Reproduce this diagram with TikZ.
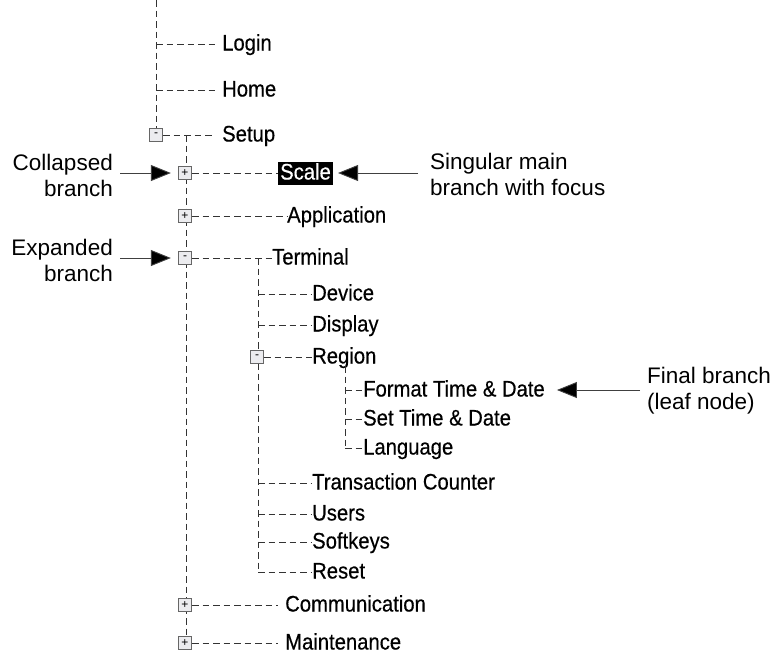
\documentclass[tikz,border=0pt]{standalone}
\usepackage{fontspec}
\setmainfont{Liberation Sans}
\newfontfamily\treefont[FakeStretch=0.9,FakeBold=0.4]{Liberation Sans}
\usetikzlibrary{arrows.meta,calc}
\begin{document}
\begin{tikzpicture}[x=1pt,y=-1pt,
  tline/.style={draw=black!80,line width=0.9pt,dash pattern=on 6.5pt off 4pt},
  tbox/.style={draw=black!60,fill=blue!8!gray!14,line width=0.8pt,minimum size=13.5pt,inner sep=0pt,font=\fontsize{12}{12}\selectfont},
  lbl/.style={anchor=west,inner sep=0pt,font=\treefont\fontsize{22.5}{22.5}\selectfont,text height=13pt,text depth=0pt},
  annr/.style={anchor=east,inner sep=0pt,align=right,font=\fontsize{22.5}{26}\selectfont},
  annl/.style={anchor=west,inner sep=0pt,align=left,font=\fontsize{22.5}{26}\selectfont},
  arr/.style={draw=black!75,line width=0.9pt,-{Triangle[length=20pt,width=16pt,fill=black]}},
  gap/.style={shorten >=7pt}
]
\useasboundingbox (0,0) rectangle (776,654);
\fill[white] (0,0) rectangle (776,654);

% trunks
\coordinate (top) at (156,0);
\coordinate (l2top) at (186,135);
\coordinate (l3top) at (258,258);
\coordinate (l4top) at (345,366);

% level 1 texts
\node[lbl] (login) at (222,44) {Login};
\node[lbl] (home) at (222,90) {Home};
\node[lbl] (setup) at (222,135) {Setup};
\coordinate (jlogin) at (156,44);
\coordinate (jhome) at (156,90);

% level 2 texts
\node[lbl,fill=black,text=white,inner xsep=2pt,inner ysep=0pt,text height=18pt,text depth=5pt] (scale) at (278,173) {Scale};
\node[lbl] (application) at (287,216) {Application};
\node[lbl] (terminal) at (272,258) {Terminal};
\node[lbl] (communication) at (285,605) {Communication};
\node[lbl] (maintenance) at (285,643) {Maintenance};

% level 3 texts
\node[lbl] (device) at (312,294) {Device};
\node[lbl] (display) at (312,325) {Display};
\node[lbl] (region) at (312,357) {Region};
\node[lbl] (transaction) at (312,483) {Transaction Counter};
\node[lbl] (users) at (312,514) {Users};
\node[lbl] (softkeys) at (312,542) {Softkeys};
\node[lbl] (reset) at (312,572) {Reset};
\coordinate (jdevice) at (258,294);
\coordinate (jdisplay) at (258,325);
\coordinate (jtrans) at (258,483);
\coordinate (jusers) at (258,514);
\coordinate (jsoft) at (258,542);
\coordinate (jreset) at (258,572);

% level 4 texts
\node[lbl] (format) at (363,390) {Format Time \& Date};
\node[lbl] (settime) at (363,419) {Set Time \& Date};
\node[lbl] (language) at (363,448) {Language};
\coordinate (jformat) at (345,390);
\coordinate (jset) at (345,419);
\coordinate (jlang) at (345,448);

% vertical trunks
\draw[tline] (top) -- (156,135);
\draw[tline] (l2top) -- (186,643);
\draw[tline] (l3top) -- (jreset);
\draw[tline] (l4top) -- (jlang);

% boxes
\node[tbox] (bsetup) at (156,135) {-};
\node[tbox] (bscale) at (185,173) {+};
\node[tbox] (bapp) at (185,216) {+};
\node[tbox] (bterm) at (185,258) {-};
\node[tbox] (bregion) at (257,357) {-};
\node[tbox] (bcomm) at (185,605) {+};
\node[tbox] (bmaint) at (185,643) {+};

% horizontal connectors
\draw[tline,gap] (jlogin) -- (login.west);
\draw[tline,gap] (jhome) -- (home.west);
\draw[tline,gap] (bsetup.east) -- (setup.west);
\draw[tline] (bscale.east) -- (scale.west);
\draw[tline] (bapp.east) -- (application.west);
\draw[tline] (bterm.east) -- (terminal.west);
\draw[tline,gap] (bcomm.east) -- (communication.west);
\draw[tline,gap] (bmaint.east) -- (maintenance.west);
\draw[tline] (jdevice) -- (device.west);
\draw[tline] (jdisplay) -- (display.west);
\draw[tline] (bregion.east) -- (region.west);
\draw[tline] (jtrans) -- (transaction.west);
\draw[tline] (jusers) -- (users.west);
\draw[tline] (jsoft) -- (softkeys.west);
\draw[tline] (jreset) -- (reset.west);
\draw[tline] (jformat) -- (format.west);
\draw[tline] (jset) -- (settime.west);
\draw[tline] (jlang) -- (language.west);

% annotations
\node[annr] (collapsed) at (113,175) {Collapsed\\branch};
\node[annr] (expanded) at (113,260) {Expanded\\branch};
\node[annl] (singular) at (430,174) {Singular main\\branch with focus};
\node[annl] (final) at (647,391) {Final branch\\(leaf node)};

\draw[arr] ($(collapsed.east |- bscale.center)+(7,0)$) -- ($(bscale.west)+(-7,0)$);
\draw[arr] ($(expanded.east |- bterm.center)+(7,0)$) -- ($(bterm.west)+(-7,0)$);
\draw[arr] ($(singular.west |- scale.center)+(-12,0)$) -- ($(scale.east)+(5,0)$);
\draw[arr] ($(final.west |- format.west)+(-7,0)$) -- ($(format.east)+(12,0)$);
\end{tikzpicture}
\end{document}
